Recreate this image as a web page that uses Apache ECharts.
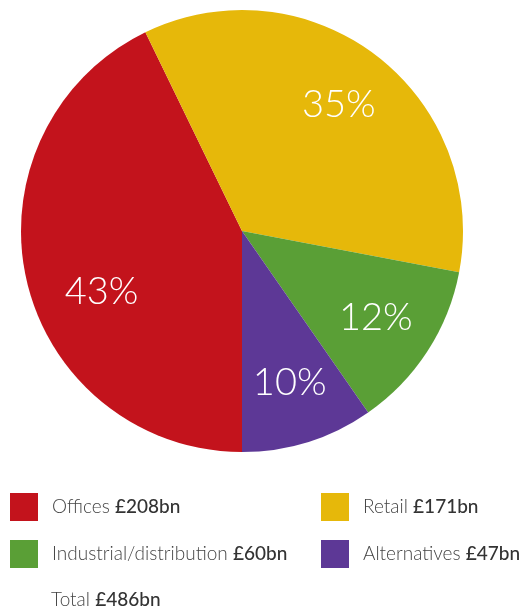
<!DOCTYPE html>
<html><head><meta charset="utf-8">
<script src="https://cdn.jsdelivr.net/npm/echarts@6/dist/echarts.min.js"></script>
<style>html,body{margin:0;padding:0;background:#fff}#c{width:521px;height:612px}</style>
</head><body><div id="c"></div>
<script>
const categories = ['Offices', 'Retail', 'Industrial/distribution', 'Alternatives'];
const values = [208, 171, 60, 47];
const percentLabels = ['43%', '35%', '12%', '10%'];
const valueLabels = ['£208bn', '£171bn', '£60bn', '£47bn'];
const totalLabel = '£486bn';
const colors = ['#C3131C', '#E6B80A', '#5A9F36', '#5D3896'];

const data = categories.map((c, i) => ({ name: c, value: values[i], itemStyle: { color: colors[i] } }));
const labelData = categories.map((c, i) => ({ name: c, value: values[i], itemStyle: { color: 'rgba(0,0,0,0)' }, label: { formatter: percentLabels[i] } }));

const font = 'Lato, "Open Sans", sans-serif';
const legendFmt = name => name + ' {b|' + valueLabels[categories.indexOf(name)] + '}';
const legendBase = {
  orient: 'vertical', top: 493, padding: 0, itemWidth: 28, itemHeight: 28, itemGap: 19, icon: 'rect',
  selectedMode: false, formatter: legendFmt,
  textStyle: { fontFamily: font, fontSize: 19, color: '#444', fontWeight: 300, padding: [0, 0, 0, 9],
    rich: { b: { fontFamily: font, fontSize: 19, color: '#333', fontWeight: 500 } } }
};

const chart = echarts.init(document.getElementById('c'));
chart.setOption({
  animation: false,
  title: { text: 'Total {b|' + totalLabel + '}', left: 51, top: 590, padding: 0,
    textStyle: { fontFamily: font, fontSize: 19, color: '#444', fontWeight: 300,
      rich: { b: { fontFamily: font, fontSize: 19, color: '#333', fontWeight: 500 } } } },
  legend: [
    Object.assign({}, legendBase, { left: 10, data: ['Offices', 'Industrial/distribution'] }),
    Object.assign({}, legendBase, { left: 321, data: ['Retail', 'Alternatives'] })
  ],
  series: [
    { type: 'pie', center: [242, 231], radius: [0, 221], startAngle: 270, clockwise: true,
      data: data, label: { show: false }, labelLine: { show: false }, silent: true,
      itemStyle: { borderWidth: 0 } },
    { type: 'pie', center: [242, 231], radius: [92, 221], startAngle: 270, clockwise: true,
      data: labelData, silent: true, legendHoverLink: false,
      label: { show: true, position: 'inside', color: '#fff', fontFamily: font, fontSize: 38, fontWeight: 300 },
      labelLayout: p => p.dataIndex === 0 ? { dx: 15, dy: 25 } : {},
      labelLine: { show: false }, itemStyle: { borderWidth: 0 } }
  ]
});
</script></body></html>
